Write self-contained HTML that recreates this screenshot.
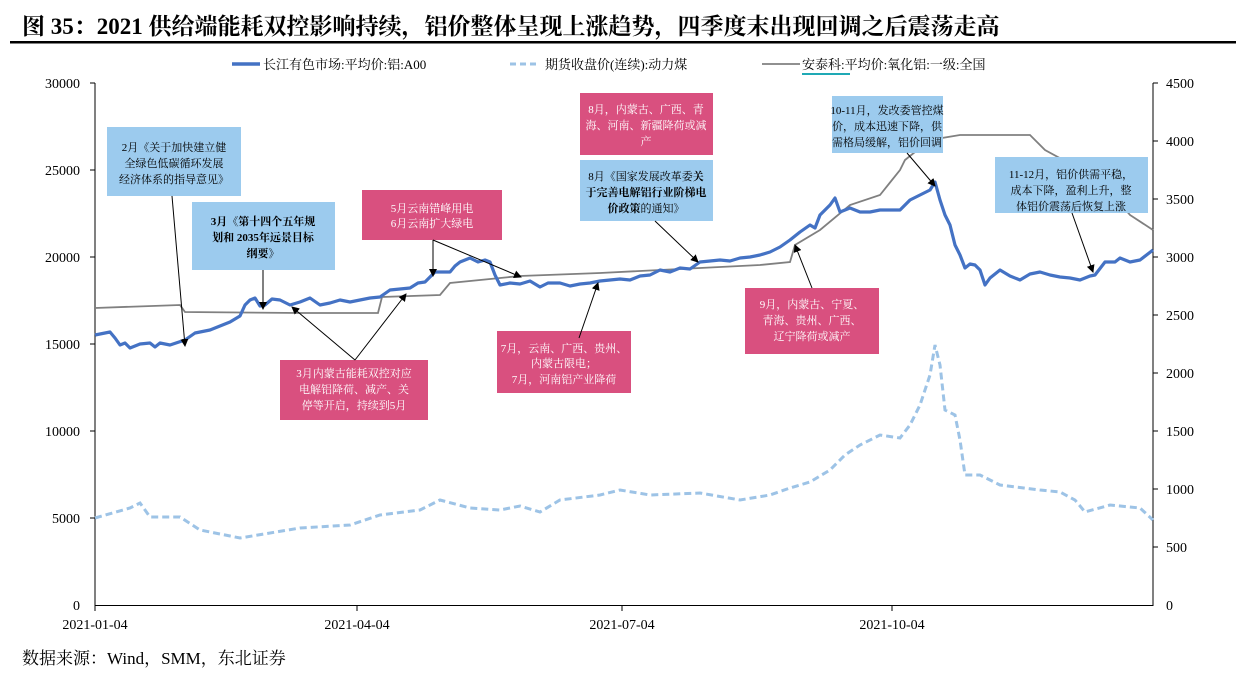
<!DOCTYPE html>
<html><head><meta charset="utf-8"><style>
body{margin:0;background:#fff;width:1252px;height:677px;overflow:hidden}
svg{display:block}
text{font-family:"Liberation Serif","Noto Serif CJK SC",serif}
</style></head><body>
<svg width="1252" height="677" viewBox="0 0 1252 677" xmlns="http://www.w3.org/2000/svg">
<defs><marker id="ah" markerWidth="8" markerHeight="8" refX="7" refY="4" orient="auto" markerUnits="userSpaceOnUse"><path d="M0,0 L8,4 L0,8 z" fill="#000"/></marker></defs>
<text x="22" y="34" font-size="23" font-weight="bold" fill="#000">图 35：2021 供给端能耗双控影响持续，铝价整体呈现上涨趋势，四季度末出现回调之后震荡走高</text>
<rect x="10" y="41" width="1226" height="2.5" fill="#000"/>
<!-- legend -->
<line x1="232" y1="64" x2="260" y2="64" stroke="#4472c4" stroke-width="3.5"/>
<text x="263" y="69" font-size="13">长江有色市场:平均价:铝:A00</text>
<line x1="510" y1="64" x2="540" y2="64" stroke="#9dc3e6" stroke-width="3" stroke-dasharray="6,4"/>
<text x="545" y="69" font-size="13">期货收盘价(连续):动力煤</text>
<line x1="762" y1="64" x2="800" y2="64" stroke="#808080" stroke-width="1.8"/>
<text x="802" y="69" font-size="13">安泰科:平均价:氧化铝:一级:全国</text>
<line x1="802" y1="74" x2="850" y2="74" stroke="#1fa9b5" stroke-width="2"/>
<!-- axes -->
<g stroke="#000" stroke-width="1">
<line x1="95" y1="83" x2="95" y2="606"/>
<line x1="1153" y1="83" x2="1153" y2="606"/>
<line x1="95" y1="605.5" x2="1153" y2="605.5"/>
<line x1="90" y1="83" x2="95" y2="83"/><line x1="90" y1="170" x2="95" y2="170"/><line x1="90" y1="257" x2="95" y2="257"/><line x1="90" y1="344" x2="95" y2="344"/><line x1="90" y1="431" x2="95" y2="431"/><line x1="90" y1="518" x2="95" y2="518"/>
<line x1="1153" y1="83" x2="1158" y2="83"/><line x1="1153" y1="141" x2="1158" y2="141"/><line x1="1153" y1="199" x2="1158" y2="199"/><line x1="1153" y1="257" x2="1158" y2="257"/><line x1="1153" y1="315" x2="1158" y2="315"/><line x1="1153" y1="373" x2="1158" y2="373"/><line x1="1153" y1="431" x2="1158" y2="431"/><line x1="1153" y1="489" x2="1158" y2="489"/><line x1="1153" y1="547" x2="1158" y2="547"/>
<line x1="95" y1="605" x2="95" y2="611"/><line x1="357" y1="605" x2="357" y2="611"/><line x1="622" y1="605" x2="622" y2="611"/><line x1="892" y1="605" x2="892" y2="611"/>
</g>
<g font-size="14" text-anchor="end">
<text x="80" y="88">30000</text><text x="80" y="175">25000</text><text x="80" y="262">20000</text><text x="80" y="349">15000</text><text x="80" y="436">10000</text><text x="80" y="523">5000</text><text x="80" y="610">0</text>
</g>
<g font-size="14">
<text x="1166" y="88">4500</text><text x="1166" y="146">4000</text><text x="1166" y="204">3500</text><text x="1166" y="262">3000</text><text x="1166" y="320">2500</text><text x="1166" y="378">2000</text><text x="1166" y="436">1500</text><text x="1166" y="494">1000</text><text x="1166" y="552">500</text><text x="1166" y="610">0</text>
</g>
<g font-size="14" text-anchor="middle">
<text x="95" y="629">2021-01-04</text><text x="357" y="629">2021-04-04</text><text x="622" y="629">2021-07-04</text><text x="892" y="629">2021-10-04</text>
</g>
<text x="22" y="664" font-size="17">数据来源：Wind，SMM，东北证券</text>
<!-- series -->
<polyline fill="none" stroke="#9dc3e6" stroke-width="3" stroke-dasharray="7,4" points="95,518 130,508 140,503 150,517 180,517 200,530 240,538 300,528 350,525 380,515 420,510 440,500 470,508 500,510 520,506 540,512 560,500 600,495 620,490 650,495 700,493 740,500 770,495 790,488 810,482 830,470 845,455 860,445 880,435 900,438 910,425 920,405 930,375 935,345 940,365 945,410 955,415 960,440 965,475 980,475 1000,485 1040,490 1060,492 1075,500 1085,512 1110,505 1140,508 1153,520"/>
<polyline fill="none" stroke="#808080" stroke-width="1.8" points="95,308 180,305 185,312 300,313 378,313 382,297 440,295 450,283 520,276 600,273 700,268 760,265 790,262 795,245 820,230 850,205 880,195 900,170 905,160 930,140 960,135 1000,135 1030,135 1045,150 1100,180 1130,215 1153,230"/>
<polyline fill="none" stroke="#4472c4" stroke-width="3.2" stroke-linejoin="round" points="95,335 105,333 110,332 115,338 120,345 125,343 130,348 140,344 150,343 155,347 160,343 170,345 185,340 195,333 210,330 230,322 240,316 245,305 250,300 255,298 260,306 265,305 272,299 280,300 290,305 300,302 310,298 320,305 330,303 340,300 350,302 360,300 370,298 380,297 390,290 400,289 410,288 418,283 425,282 435,272 450,272 455,266 460,262 465,260 470,258 478,262 485,260 490,262 495,275 500,285 510,283 520,284 530,281 540,287 548,283 560,283 570,286 580,284 590,283 600,281 610,280 620,279 630,280 640,276 650,275 660,270 670,272 680,268 690,269 700,262 710,261 720,260 730,261 740,258 750,257 760,255 770,252 780,247 790,240 800,232 810,225 815,228 820,215 830,205 835,198 840,212 850,208 860,212 870,212 880,210 900,210 910,200 920,195 930,190 935,182 940,200 945,215 950,225 955,245 960,255 965,268 970,264 975,265 980,270 985,285 990,278 1000,270 1010,276 1020,280 1030,274 1040,272 1050,275 1060,277 1070,278 1080,280 1090,276 1095,275 1105,262 1115,262 1120,258 1130,262 1140,260 1153,250"/>
<!-- annotation boxes -->
<g font-size="11" text-anchor="middle">
<rect x="107" y="127" width="134" height="69" fill="#9ccbee"/>
<text x="174" y="151">2月《关于加快建立健</text><text x="174" y="167">全绿色低碳循环发展</text><text x="174" y="183">经济体系的指导意见》</text>
<rect x="192" y="202" width="143" height="68" fill="#9ccbee"/>
<text x="263" y="225" font-weight="bold">3月《第十四个五年规</text><text x="263" y="241" font-weight="bold">划和 2035年远景目标</text><text x="263" y="257" font-weight="bold">纲要》</text>
<rect x="362" y="190" width="140" height="50" fill="#d9507f"/>
<text x="432" y="212" fill="#fff">5月云南错峰用电</text><text x="432" y="227" fill="#fff">6月云南扩大绿电</text>
<rect x="280" y="360" width="148" height="60" fill="#d9507f"/>
<text x="354" y="377" fill="#fff">3月内蒙古能耗双控对应</text><text x="354" y="393" fill="#fff">电解铝降荷、减产、关</text><text x="354" y="409" fill="#fff">停等开启，持续到5月</text>
<rect x="497" y="331" width="134" height="62" fill="#d9507f"/>
<text x="564" y="352" fill="#fff">7月，云南、广西、贵州、</text><text x="564" y="367" fill="#fff">内蒙古限电；</text><text x="564" y="383" fill="#fff">7月，河南铝产业降荷</text>
<rect x="580" y="93" width="133" height="62" fill="#d9507f"/>
<text x="646" y="113" fill="#fff">8月，内蒙古、广西、青</text><text x="646" y="129" fill="#fff">海、河南、新疆降荷或减</text><text x="646" y="145" fill="#fff">产</text>
<rect x="580" y="160" width="133" height="61" fill="#9ccbee"/>
<text x="646" y="180">8月《国家发展改革委<tspan font-weight="bold">关</tspan></text><text x="646" y="196" font-weight="bold">于完善电解铝行业阶梯电</text><text x="646" y="212"><tspan font-weight="bold">价政策</tspan>的通知》</text>
<rect x="745" y="288" width="134" height="66" fill="#d9507f"/>
<text x="812" y="308" fill="#fff">9月，内蒙古、宁夏、</text><text x="812" y="324" fill="#fff">青海、贵州、广西、</text><text x="812" y="340" fill="#fff">辽宁降荷或减产</text>
<rect x="832" y="96" width="111" height="57" fill="#9ccbee"/>
<text x="887" y="114">10-11月，发改委管控煤</text><text x="887" y="130">价，成本迅速下降，供</text><text x="887" y="146">需格局缓解，铝价回调</text>
<rect x="995" y="157" width="153" height="56" fill="#9ccbee"/>
<text x="1071" y="178">11-12月，铝价供需平稳，</text><text x="1071" y="194">成本下降，盈利上升，整</text><text x="1071" y="210">体铝价震荡后恢复上涨</text>
</g>
<!-- arrows -->
<g stroke="#000" stroke-width="1" marker-end="url(#ah)">
<line x1="172" y1="196" x2="185" y2="346"/>
<line x1="263" y1="270" x2="263" y2="309"/>
<line x1="433" y1="240" x2="433" y2="276"/>
<line x1="433" y1="240" x2="521" y2="277"/>
<line x1="355" y1="360" x2="292" y2="307"/>
<line x1="355" y1="360" x2="406" y2="294"/>
<line x1="579" y1="338" x2="598" y2="283"/>
<line x1="655" y1="221" x2="698" y2="262"/>
<line x1="812" y1="288" x2="795" y2="245"/>
<line x1="907" y1="153" x2="935" y2="186"/>
<line x1="1072" y1="213" x2="1093" y2="272"/>
</g>
</svg>
</body></html>
